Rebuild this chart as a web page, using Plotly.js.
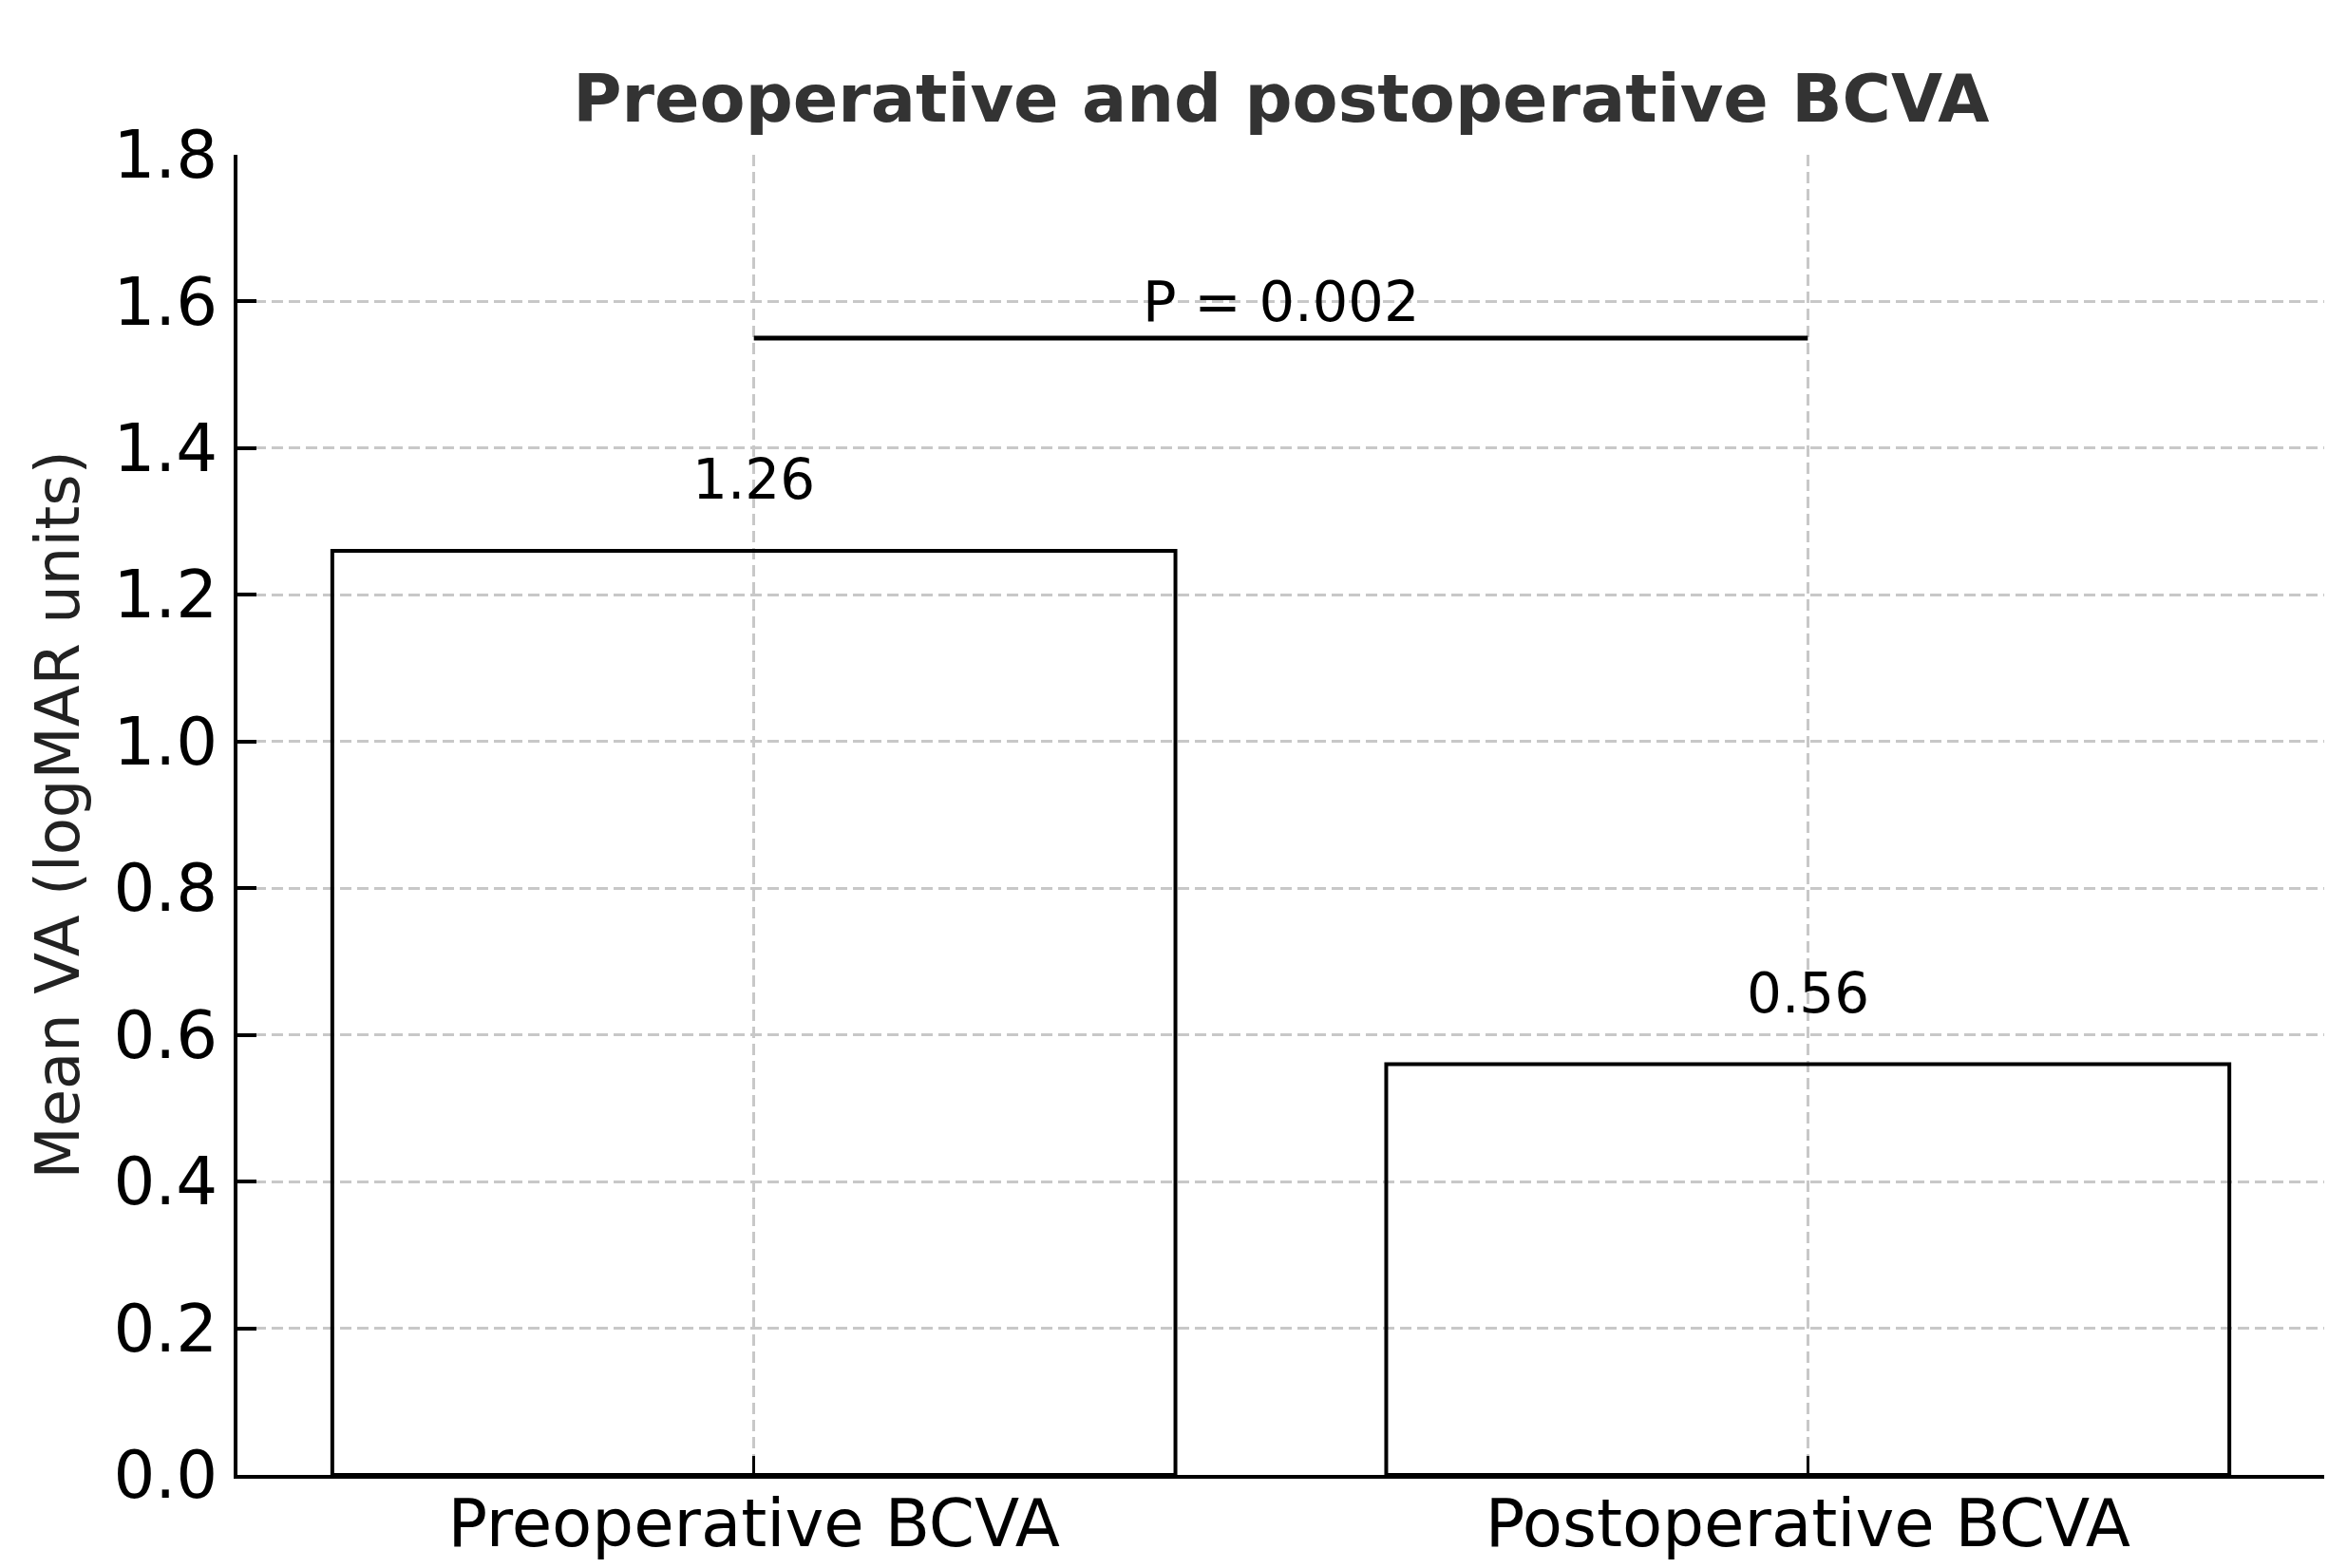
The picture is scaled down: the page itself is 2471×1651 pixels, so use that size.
<!DOCTYPE html>
<html>
<head>
<meta charset="utf-8">
<script src="https://cdn.plot.ly/plotly-3.0.1.min.js"></script>
<style>
  html, body { margin: 0; padding: 0; background: #fff; }
  #chart { width: 2471px; height: 1651px; }
</style>
</head>
<body>
<div id="chart"></div>
<script>
const categories = ["Preoperative BCVA", "Postoperative BCVA"];
const meanVA = [1.26, 0.56];
const valueLabels = ["1.26", "0.56"];
const pText = "P = 0.002";
const pLevel = 1.55;
const yTicks = [0, 0.2, 0.4, 0.6, 0.8, 1.0, 1.2, 1.4, 1.6, 1.8];

const font = "DejaVu Sans, sans-serif";

var bars = {
  type: "bar",
  x: categories,
  y: meanVA,
  width: 0.8,
  marker: { color: "rgba(255,255,255,0)", line: { color: "#000", width: 4 } },
  hoverinfo: "none",
};

// bracket for the significance test, drawn between the two category centres
var bracket = {
  type: "scatter",
  mode: "lines",
  x: categories,
  y: [pLevel, pLevel],
  line: { color: "#000", width: 5 },
  hoverinfo: "none",
};

var annotations = categories.map((c, i) => ({
  x: c,
  y: meanVA[i] + 0.05,
  xref: "x",
  yref: "y",
  text: valueLabels[i],
  showarrow: false,
  yanchor: "bottom",
  font: { family: font, size: 58, color: "#000" },
}));

annotations.push({
  x: 0.5,
  y: pLevel,
  xref: "x",
  yref: "y",
  text: pText,
  showarrow: false,
  yanchor: "bottom",
  yshift: 2,
  font: { family: font, size: 59, color: "#000" },
});

var layout = {
  width: 2471,
  height: 1651,
  margin: { t: 163, b: 98, l: 250, r: 24 },
  paper_bgcolor: "#fff",
  plot_bgcolor: "#fff",
  showlegend: false,
  font: { family: font, color: "#000" },
  title: {
    text: "<b>Preoperative and postoperative BCVA</b>",
    font: { family: font, size: 70, color: "#333" },
    x: 0.5459,
    xanchor: "center",
    y: 1 - 103 / 1651,
    yanchor: "middle",
  },
  xaxis: {
    type: "category",
    range: [-0.49, 1.49],
    showline: true,
    linecolor: "#000",
    linewidth: 4,
    ticks: "inside",
    ticklen: 20,
    tickwidth: 3,
    tickcolor: "#000",
    tickfont: { family: font, size: 69, color: "#000" },
    ticklabelstandoff: -12,
    showgrid: true,
    gridcolor: "#c8c8c8",
    gridwidth: 2.5,
    griddash: "12px,6px",
    zeroline: false,
    fixedrange: true,
  },
  yaxis: {
    range: [0, 1.8],
    tickvals: yTicks,
    tickformat: ".1f",
    showline: true,
    linecolor: "#000",
    linewidth: 4,
    ticks: "inside",
    ticklen: 20,
    tickwidth: 4,
    tickcolor: "#000",
    tickfont: { family: font, size: 69, color: "#000" },
    ticklabelstandoff: 3,
    showgrid: true,
    gridcolor: "#c8c8c8",
    gridwidth: 2.5,
    griddash: "12px,6px",
    zeroline: false,
    title: {
      text: "Mean VA (logMAR units)",
      font: { family: font, size: 64, color: "#222" },
      standoff: 16,
    },
    fixedrange: true,
  },
  annotations: annotations,
};

var config = { displayModeBar: false, responsive: false };

Plotly.newPlot("chart", [bars, bracket], layout, config);
</script>
</body>
</html>
